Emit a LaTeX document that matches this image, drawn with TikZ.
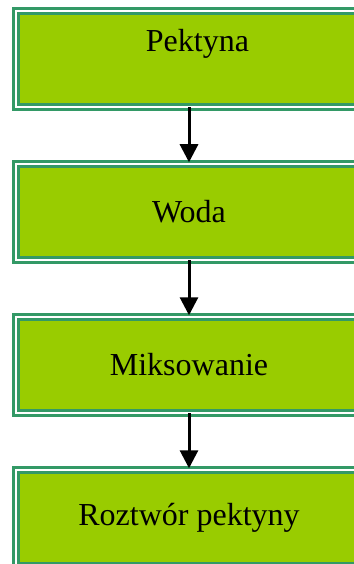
\documentclass[tikz,border=0pt]{standalone}
\usepackage{fontspec}
\setmainfont{Liberation Serif}
\usepackage{tikz}
\usetikzlibrary{arrows.meta,positioning}
\usepackage{xcolor}
\definecolor{boxgreen}{HTML}{99CC00}
\definecolor{framegreen}{HTML}{339966}

\begin{document}
\begin{tikzpicture}[node distance=56.5pt, font=\fontsize{32}{38}\selectfont]
\tikzset{
  box/.style={rectangle, fill=boxgreen, draw=framegreen, line width=2.6pt, double=white, double distance=2.4pt, outer sep=0pt, minimum width=346.5pt, minimum height=96.5pt, align=center},
  arr/.style={-{Triangle[width=18pt,length=18pt]}, line width=3pt},
}
\useasboundingbox (0,0) rectangle (353pt,-564pt);
\node[box, text depth=38pt] (a) at (189pt,-59pt) {\hspace*{17pt}Pektyna};
\node[box, below=of a] (b) {Woda};
\node[box, below=of b] (c) {Miksowanie};
\node[box, below=of c] (d) {Roztwór pektyny};
\draw[arr] (a.south) -- ([yshift=1.5pt]b.north);
\draw[arr] (b.south) -- ([yshift=1.5pt]c.north);
\draw[arr] (c.south) -- ([yshift=1.5pt]d.north);
\end{tikzpicture}
\end{document}
